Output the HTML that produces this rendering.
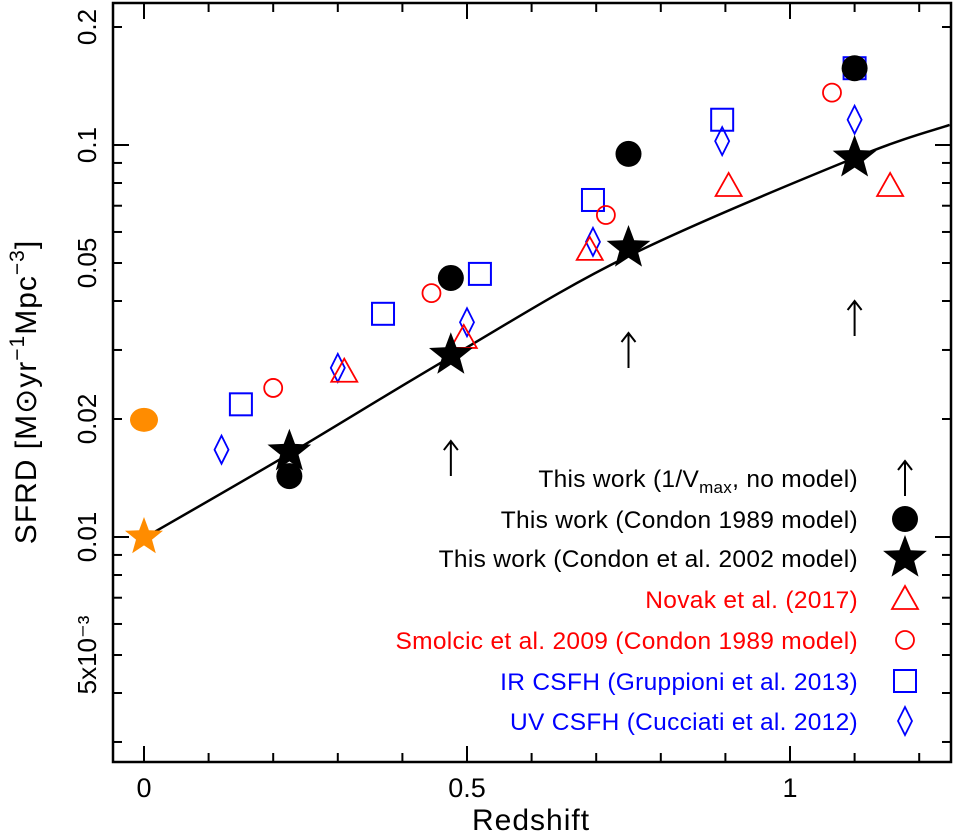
<!DOCTYPE html>
<html><head><meta charset="utf-8"><style>
html,body{margin:0;padding:0;background:#fff;}
svg{display:block;font-family:"Liberation Sans",sans-serif;}
</style></head><body>
<svg id="chart" width="953" height="835" viewBox="0 0 953 835">
<rect x="113" y="3" width="838" height="759" fill="none" stroke="#000" stroke-width="2.5"/>
<g id="axes"></g><g id="curve"></g><g id="marks"></g><g id="legend"></g>
<text x="531" y="830" font-size="30" letter-spacing="1" text-anchor="middle">Redshift</text>
<text transform="translate(36,392) rotate(-90)" font-size="30" letter-spacing="1" text-anchor="middle">SFRD [M⊙yr<tspan dy="-12" font-size="21">−1</tspan><tspan dy="12">Mpc</tspan><tspan dy="-12" font-size="21">−3</tspan><tspan dy="12">]</tspan></text>
</svg>
<script>
const xTicks=[0,0.5,1];
const xTickLabels=["0","0.5","1"];
const yTicks=[0.2,0.1,0.05,0.02,0.01,0.005];
const yTickLabels=["0.2","0.1","0.05","0.02","0.01","5x10⁻³"];
const arrowZ=[0.475,0.75,1.1], arrowV=[0.0159,0.030,0.0362];
const circZ=[0.225,0.475,0.75,1.1], circV=[0.0143,0.0458,0.0949,0.157];
const starZ=[0.225,0.475,0.75,1.1], starV=[0.0165,0.0291,0.0546,0.0927];
const orangeCircZ=[0], orangeCircV=[0.0199];
const orangeStarZ=[0], orangeStarV=[0.0100];
const triZ=[0.31,0.495,0.69,0.905,1.155], triV=[0.0264,0.0322,0.054,0.0786,0.0786];
const rcZ=[0.2,0.445,0.715,1.065], rcV=[0.024,0.0419,0.0663,0.136];
const sqZ=[0.15,0.37,0.52,0.695,0.895,1.1], sqV=[0.0218,0.0371,0.0469,0.0724,0.116,0.157];
const diaZ=[0.12,0.3,0.5,0.695,0.895,1.1], diaV=[0.0167,0.027,0.0353,0.0566,0.1023,0.116];
const curveZ=[0,0.225,0.475,0.75,1.1,1.247];
const curveV=[0.00994,0.0163,0.0288,0.0521,0.0927,0.1125];

const NS="http://www.w3.org/2000/svg";
function X(z){return 144+646*z;}
function Y(v){return 145-392*(Math.log10(v)+1);}
function mk(tag,attrs,parent){const e=document.createElementNS(NS,tag);for(const k in attrs)e.setAttribute(k,attrs[k]);document.getElementById(parent).appendChild(e);return e;}
for(let i=0;i<=12;i++){const z=i/10;const major=i%5===0;
 const t=mk('line',{x1:X(z),x2:X(z),y1:762,y2:762-(major?16:9),stroke:'#000','stroke-width':2},'axes');
 
 
 const t2=mk('line',{x1:X(z),x2:X(z),y1:3,y2:3+(major?16:9),stroke:'#000','stroke-width':2},'axes');
 
 }
xTicks.forEach((z,i)=>{const t=mk('text',{x:X(z),y:797,'font-size':27,'text-anchor':'middle'},'axes');t.textContent=xTickLabels[i];
 
 });
const minors=[];for(const d of [0.001,0.01,0.1]){for(let m=1;m<=9;m++)minors.push(m*d);}
minors.forEach(v=>{const y=Y(v);if(y<4||y>761)return;const major=Math.abs(Math.log10(v)-Math.round(Math.log10(v)))<1e-6;
 const t=mk('line',{x1:113,x2:113+(major?16:9),y1:y,y2:y,stroke:'#000','stroke-width':2},'axes');
 
 
 const t2=mk('line',{x1:951,x2:951-(major?16:9),y1:y,y2:y,stroke:'#000','stroke-width':2},'axes');
 
 });
yTicks.forEach((v,i)=>{const y=Y(v);const t=mk('text',{transform:`translate(96,${y}) rotate(-90)`,'font-size':26,'text-anchor':'middle'},'axes');t.textContent=yTickLabels[i];
 
 });
const P=curveZ.map((z,i)=>[X(z),Y(curveV[i])]);
let d='M'+P[0][0].toFixed(1)+','+P[0][1].toFixed(1);
for(let i=0;i<P.length-1;i++){const p0=P[Math.max(0,i-1)],p1=P[i],p2=P[i+1],p3=P[Math.min(P.length-1,i+2)];
 const c1=[p1[0]+(p2[0]-p0[0])/6,p1[1]+(p2[1]-p0[1])/6],c2=[p2[0]-(p3[0]-p1[0])/6,p2[1]-(p3[1]-p1[1])/6];
 d+=`C${c1[0].toFixed(1)},${c1[1].toFixed(1)} ${c2[0].toFixed(1)},${c2[1].toFixed(1)} ${p2[0].toFixed(1)},${p2[1].toFixed(1)}`;}
const c=mk('path',{d:d,fill:'none',stroke:'#000','stroke-width':2.5},'curve');


function star(cx,cy,r,fill,par){let p='';for(let k=0;k<10;k++){const a=-Math.PI/2+k*Math.PI/5;const rr=k%2?r*0.42:r;p+=(k?'L':'M')+(cx+rr*Math.cos(a)).toFixed(1)+','+(cy+rr*Math.sin(a)).toFixed(1);}return mk('path',{d:p+'Z',fill:fill},par);}
function draw(type,cx,cy,par){
 if(type==='arrow'){return mk('path',{d:`M${cx},${cy+18}L${cx},${cy-17}M${cx-7},${cy-8}L${cx},${cy-17}L${cx+7},${cy-8}`,fill:'none',stroke:'#000','stroke-width':2},par);}
 if(type==='circ')return mk('circle',{cx:cx,cy:cy,r:13,fill:'#000'},par);
 if(type==='ocirc')return mk('ellipse',{cx:cx,cy:cy,rx:14,ry:12,fill:'#ff8c00'},par);
 if(type==='star')return star(cx,cy,23,'#000',par);
 if(type==='ostar')return star(cx,cy,20,'#ff8c00',par);
 if(type==='tri')return mk('path',{d:`M${cx},${cy-13}L${cx+13},${cy+10}L${cx-13},${cy+10}Z`,fill:'none',stroke:'#ff0000','stroke-width':1.8},par);
 if(type==='rc')return mk('circle',{cx:cx,cy:cy,r:9,fill:'none',stroke:'#ff0000','stroke-width':1.8},par);
 if(type==='sq')return mk('rect',{x:cx-11,y:cy-11,width:22,height:22,fill:'none',stroke:'#0000ff','stroke-width':2},par);
 if(type==='dia')return mk('path',{d:`M${cx},${cy-14}L${cx+7},${cy}L${cx},${cy+14}L${cx-7},${cy}Z`,fill:'none',stroke:'#0000ff','stroke-width':1.8},par);
}
const sets=[['sq',sqZ,sqV,'blue-square'],['dia',diaZ,diaV,'blue-diamond'],['tri',triZ,triV,'red-triangle'],['rc',rcZ,rcV,'red-circle'],['arrow',arrowZ,arrowV,'vmax-arrow'],['circ',circZ,circV,'condon1989-circle'],['star',starZ,starV,'condon2002-star'],['ocirc',orangeCircZ,orangeCircV,'local-circle'],['ostar',orangeStarZ,orangeStarV,'local-star']];
sets.forEach(s=>{s[1].forEach((z,i)=>{const e=draw(s[0],X(z),Y(s[2][i]),'marks');
 
 });});
const legTypes=['arrow','circ','star','tri','rc','sq','dia'];
const legColors=['#000','#000','#000','#ff0000','#ff0000','#0000ff','#0000ff'];
const legText=['This work (1/V<tspan dy="6" font-size="17">max</tspan><tspan dy="-6">, no model)</tspan>','This work (Condon 1989 model)','This work (Condon et al. 2002 model)','Novak et al. (2017)','Smolcic et al. 2009 (Condon 1989 model)','IR CSFH (Gruppioni et al. 2013)','UV CSFH (Cucciati et al. 2012)'];
const legY=[478,519,558,599,640,681,721];
legTypes.forEach((t,i)=>{const tx=mk('text',{x:858,y:legY[i]+9,'font-size':24.5,'letter-spacing':0.3,'text-anchor':'end',fill:legColors[i]},'legend');tx.innerHTML=legText[i];
 
 
 const m=draw(t,905,legY[i],'legend');
 
 });
</script>
</body></html>
